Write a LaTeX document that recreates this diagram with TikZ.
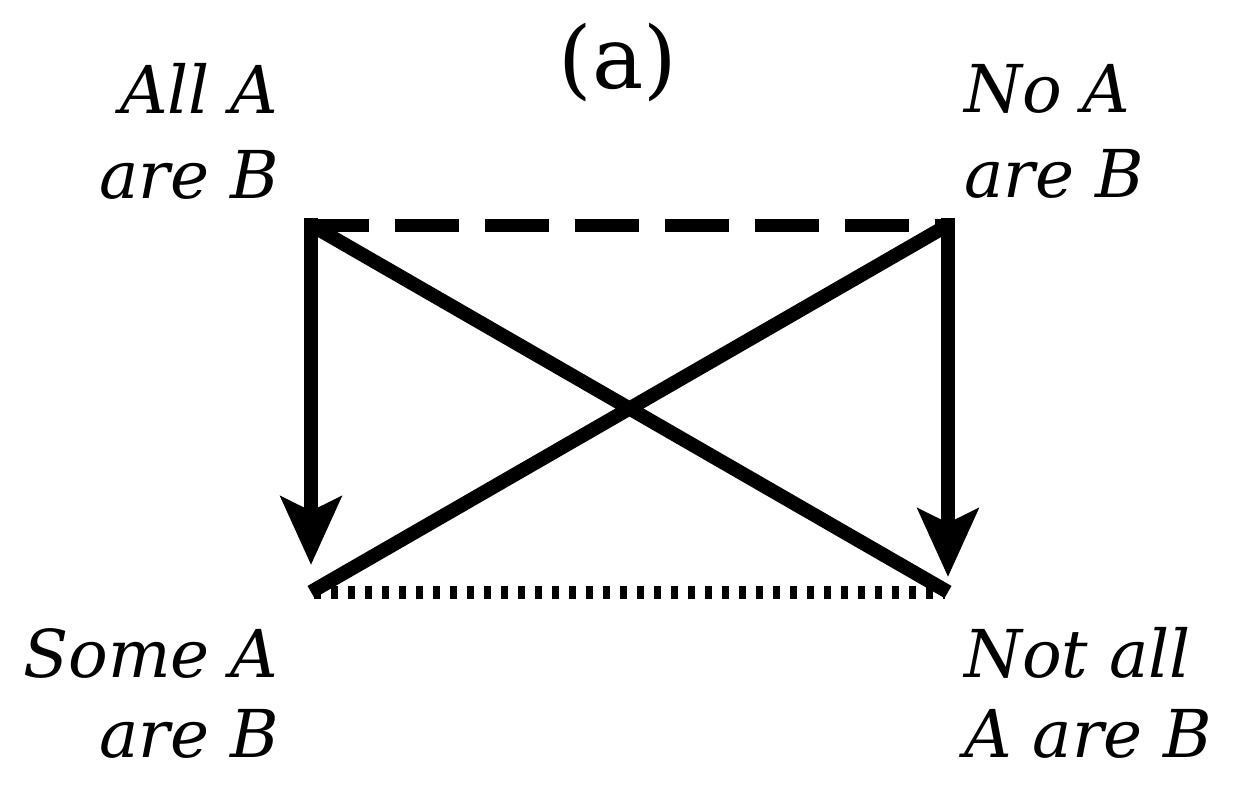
\documentclass[tikz,border=0pt]{standalone}
\usepackage{fontspec}
\setmainfont{DejaVu Serif}
\newfontfamily\lblfont{DejaVu Serif}
\usetikzlibrary{arrows.meta}
\tikzset{
  edge/.style={line width=7pt, black},
  dashedge/.style={line width=6.5pt, black, dash pattern=on 32pt off 13pt},
  dotedge/.style={line width=6.5pt, black, dash pattern=on 3.5pt off 5pt},
  arrowedge/.style={edge, -{Stealth[length=34pt,width=30pt,inset=7pt]}},
  lbl/.style={inner sep=0pt, font=\lblfont\itshape\fontsize{33pt}{42.5pt}\selectfont},
  lblb/.style={inner sep=0pt, font=\lblfont\itshape\fontsize{33pt}{40pt}\selectfont},
}
\begin{document}
\begin{tikzpicture}[x=0.5pt,y=-0.5pt]
\useasboundingbox (0,0) rectangle (1242,798);
\coordinate (tl) at (311,225);
\coordinate (tr) at (948,225);
\coordinate (bl) at (311,592);
\coordinate (br) at (948,592);
\coordinate (tipl) at (311,565);
\coordinate (tipr) at (948,577);
\coordinate (dotl) at (314,592);
\coordinate (dotr) at (945,592);
\coordinate (dashl) at (305,225);
\coordinate (dashr) at (948,225);

\draw[dashedge] (dashl) -- (dashr);
\draw[dotedge] (dotl) -- (dotr);
\draw[edge] (tl) -- (br);
\draw[edge] (tr) -- (bl);
\draw[arrowedge] ([yshift=3.5pt]tl) -- (tipl);
\draw[arrowedge] ([yshift=3.5pt]tr) -- (tipr);

\node[inner sep=0pt, font=\rmfamily\fontsize{43pt}{43pt}\selectfont, anchor=base] (title) at (618,88) {(a)};
\node[lbl, anchor=base east, align=right] (allab) at (279,198) {All A\\are B};
\node[lbl, anchor=base west, align=left] (noab) at (964,197) {No A\\are B};
\node[lblb, anchor=base east, align=right] (someab) at (279,757) {Some A\\are B};
\node[lblb, anchor=base west, align=left] (notallab) at (964,757) {Not all\\A are B};
\end{tikzpicture}
\end{document}
